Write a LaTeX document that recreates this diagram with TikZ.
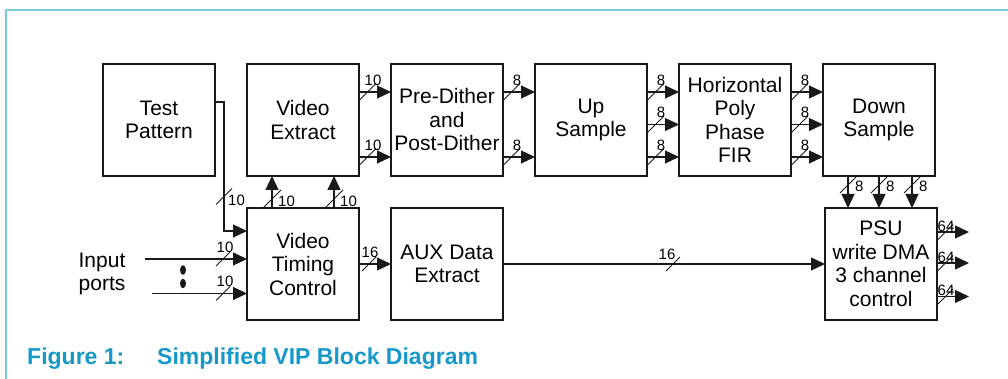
\documentclass[tikz,border=0pt]{standalone}
\usepackage{fontspec}
\setmainfont{Liberation Sans}
\usepackage{xcolor}
\usepackage{tikz}
\usetikzlibrary{positioning,arrows.meta,calc}
\definecolor{capblue}{RGB}{22,152,200}
\definecolor{framebl}{RGB}{125,200,222}

\begin{document}
\begin{tikzpicture}[x=1pt, y=1pt,
  blk/.style={draw=black!90, line width=1.2pt, minimum width=112pt, minimum height=112pt,
    inner sep=0pt, outer sep=0pt, align=center, font=\fontsize{21}{23.5}\selectfont},
  bus/.style={draw=black!90, line width=1.2pt, -{Triangle[length=14pt,width=13pt]}},
  cut/.style={draw=black!90, line width=1pt},
  wd/.style={inner sep=0pt, font=\fontsize{15}{15}\selectfont}]
  \useasboundingbox (0,0) rectangle (1008,379);
  \draw[framebl, line width=2pt] (6,0) -- (6,369) -- (1008,369);

  % blocks
  \node[blk] (TP) at (159,259) {Test\\Pattern};
  \node[blk, right=32pt of TP] (VE) {Video\\Extract};
  \node[blk, right=32pt of VE] (PD) {Pre-Dither\\and\\Post-Dither};
  \node[blk, right=32pt of PD] (US) {Up\\Sample};
  \node[blk, right=32pt of US] (HF) {Horizontal\\Poly\\Phase\\FIR};
  \node[blk, right=32pt of HF] (DS) {Down\\Sample};
  \node[blk, below=32pt of VE] (VTC) {Video\\Timing\\Control};
  \node[blk, right=32pt of VTC] (AUX) {AUX Data\\Extract};
  \node[blk] (PSU) at (881,115) {PSU\\write DMA\\3 channel\\control};

  % top row buses
  \foreach \a/\b/\w in {VE/PD/10, PD/US/8}
    \foreach \dy in {28,-37}{
      \draw[bus] ([yshift=\dy pt]\a.east) -- ([yshift=\dy pt]\b.west);
      \draw[cut] ($(\a.east)+(0,\dy-8.5)$) -- ++(17,17);
      \node[wd] at ($(\a.east)+(14,\dy+12)$) {\w};
    }
  \foreach \a/\b in {US/HF, HF/DS}
    \foreach \dy in {28,-4.5,-37}{
      \draw[bus] ([yshift=\dy pt]\a.east) -- ([yshift=\dy pt]\b.west);
      \draw[cut] ($(\a.east)+(0,\dy-8.5)$) -- ++(17,17);
      \node[wd] at ($(\a.east)+(14,\dy+12)$) {8};
    }

  % test pattern into timing control
  \coordinate (tpin) at ([yshift=33pt]VTC.west);
  \draw[bus] ([yshift=18pt]TP.east) -| ([xshift=-23pt]tpin) -- (tpin);
  \draw[cut] ($(tpin)+(-31,26.5)$) -- ++(16,16);
  \node[wd, anchor=west] at ($(tpin)+(-19,30.5)$) {10};

  % timing control up to video extract
  \foreach \dx in {-31,31}{
    \draw[bus] ([xshift=\dx pt]VTC.north) -- ([xshift=\dx pt]VE.south);
    \draw[cut] ($(VTC.north)+(\dx-9,0)$) -- ++(18,18);
    \node[wd, anchor=west] at ($(VTC.north)+(\dx+6,7)$) {10};
  }

  % input ports
  \node[font=\fontsize{21}{23.5}\selectfont, align=center, inner sep=0pt] (inp) at (102,105) {Input\\ports};
  \coordinate (ip1) at (145,120);
  \coordinate (ip2) at (152,85.5);
  \coordinate (in1) at (VTC.west |- ip1);
  \coordinate (in2) at (VTC.west |- ip2);
  \foreach \i in {1,2}{
    \draw[bus] (ip\i) -- (in\i);
    \draw[cut] ($(in\i)+(-31,-7)$) -- ++(14,14);
    \node[wd] at ($(in\i)+(-22,12)$) {10};
  }
  \fill[black!90] (183,109) ellipse (3 and 4.8);
  \fill[black!90] (183,95.5) ellipse (3 and 4.8);

  % aux data path
  \draw[bus] (VTC.east) -- (AUX.west);
  \draw[cut] ($(VTC.east)+(3,-7)$) -- ++(14,14);
  \node[wd] at ($(VTC.east)+(11,12)$) {16};
  \draw[bus] (AUX.east) -- (AUX.east -| PSU.west);
  \draw[cut] ($(AUX.east)+(163,-7)$) -- ++(14,14);
  \node[wd] at ($(AUX.east)+(164,10)$) {16};

  % down sample into PSU
  \foreach \dx in {-31,0,33}{
    \draw[bus] ([xshift=\dx pt]DS.south) -- ([xshift=\dx pt]DS.south |- PSU.north);
    \draw[cut] ($(DS.south)+(\dx-8,-17)$) -- ++(16,16);
    \node[wd, anchor=west] at ($(DS.south)+(\dx+7,-10)$) {8};
  }

  % PSU outputs
  \foreach \dy [count=\i] in {32,1,-32.5}{
    \coordinate (po\i) at ($(PSU.east)+(32,\dy)$);
    \draw[bus] ([yshift=\dy pt]PSU.east) -- (po\i);
    \draw[cut] ($(PSU.east)+(0,\dy-8.5)$) -- ++(16,16);
    \node[wd] at ($(PSU.east)+(9,\dy+6)$) {64};
  }

  % caption
  \node[anchor=base west, inner sep=0pt, text=capblue, font=\fontsize{23}{24}\selectfont\bfseries] (capnum) at (27,14) {Figure 1:};
  \node[anchor=base west, inner sep=0pt, text=capblue, font=\fontsize{23}{24}\selectfont\bfseries] (captxt) at (157,14) {Simplified VIP Block Diagram};
\end{tikzpicture}
\end{document}
